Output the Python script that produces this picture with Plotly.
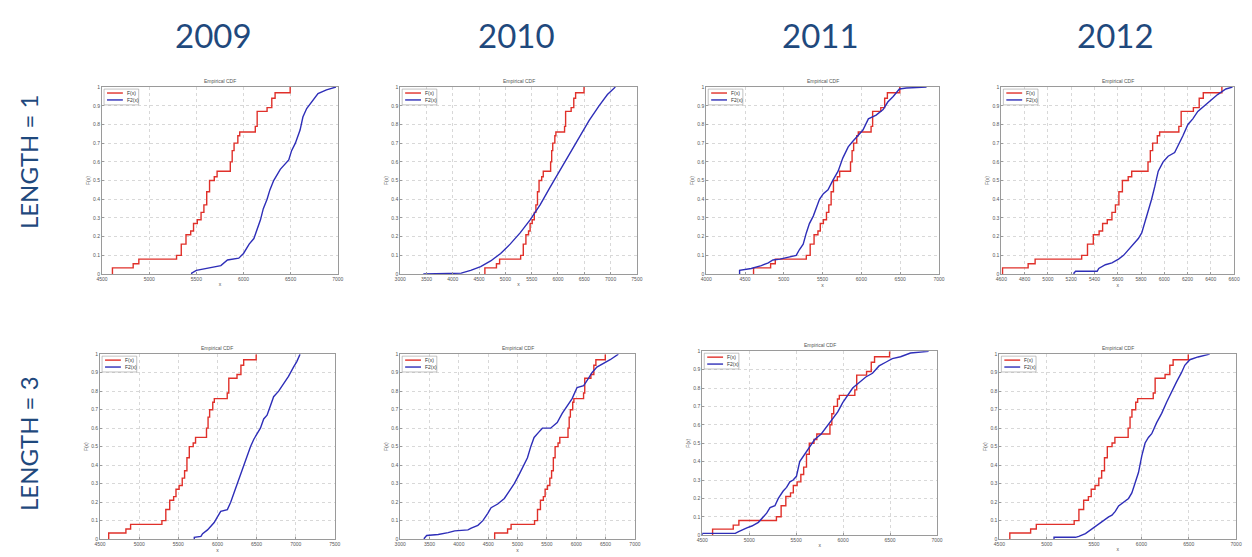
import plotly.graph_objects as go

W, H = 1252, 557

years = ["2009", "2010", "2011", "2012"]
row_labels = ["LENGTH = 1", "LENGTH = 3"]
legend_names = ["F(x)", "F2(x)"]

# Observed empirical CDF (red) - same in every panel
obs_x = [4610, 4610, 4830, 4890, 5290, 5340, 5390, 5440, 5470, 5510, 5550, 5580, 5610,
         5640, 5690, 5720, 5860, 5880, 5900, 5940, 5960, 6125, 6145, 6250, 6300, 6335, 6495]
obs_f = [0, 0.033, 0.055, 0.08, 0.1, 0.16, 0.21, 0.23, 0.27, 0.29, 0.33, 0.37, 0.44,
         0.5, 0.52, 0.55, 0.6, 0.66, 0.7, 0.74, 0.76, 0.79, 0.87, 0.89, 0.94, 0.97, 1.0]

# Model empirical CDFs (blue), one per panel
b2009_l1_x = [5450, 5450, 5500, 5620, 5760, 5830, 5950, 6000, 6060, 6110, 6140, 6180, 6210, 6250,
              6280, 6320, 6390, 6440, 6480, 6510, 6550, 6600, 6630, 6670, 6720, 6790, 6880, 6980]
b2009_l1_f = [0, 0.005, 0.02, 0.033, 0.045, 0.075, 0.085, 0.11, 0.16, 0.19, 0.23, 0.29, 0.35, 0.40,
              0.45, 0.50, 0.56, 0.59, 0.61, 0.66, 0.70, 0.77, 0.84, 0.885, 0.92, 0.965, 0.985, 1.0]

b2010_l1_x = [3440, 4160, 4340, 4530, 4720, 4910, 5090, 5280, 5470, 5660, 5840, 6030, 6220,
              6410, 6590, 6780, 6940, 7090]
b2010_l1_f = [0.0, 0.005, 0.02, 0.04, 0.07, 0.11, 0.16, 0.22, 0.29, 0.37, 0.46, 0.55, 0.64,
              0.73, 0.82, 0.9, 0.96, 1.0]

b2011_l1_x = [4430, 4430, 4580, 4710, 4800, 4860, 4950, 5080, 5160, 5200, 5250, 5290, 5330, 5380,
              5420, 5460, 5510, 5570, 5630, 5700, 5760, 5830, 5890, 5960, 6020, 6090, 6190,
              6280, 6340, 6410, 6490, 6580, 6840]
b2011_l1_f = [0, 0.02, 0.03, 0.045, 0.06, 0.075, 0.08, 0.09, 0.1, 0.13, 0.16, 0.22, 0.27, 0.31,
              0.36, 0.40, 0.43, 0.45, 0.5, 0.55, 0.62, 0.68, 0.71, 0.74, 0.77, 0.83, 0.85,
              0.88, 0.92, 0.95, 0.99, 0.995, 1.0]

b2012_l1_x = [5224, 5224, 5238, 5423, 5437, 5494, 5550, 5607, 5650, 5692, 5735, 5777, 5806, 5834,
              5862, 5891, 5919, 5948, 5990, 6033, 6089, 6132, 6160, 6203, 6245, 6288, 6345,
              6402, 6458, 6529, 6586]
b2012_l1_f = [0, 0.005, 0.015, 0.015, 0.03, 0.05, 0.06, 0.08, 0.1, 0.13, 0.16, 0.19, 0.22, 0.28,
              0.33, 0.4, 0.47, 0.55, 0.6, 0.63, 0.65, 0.7, 0.74, 0.8, 0.83, 0.87, 0.9,
              0.93, 0.96, 0.99, 1.0]

b2009_l3_x = [5704, 5704, 5789, 5810, 5873, 5915, 5958, 6000, 6042, 6127, 6169, 6211, 6253, 6296,
              6338, 6380, 6422, 6465, 6507, 6549, 6591, 6634, 6676, 6718, 6782, 6845, 6908,
              6972, 7014, 7056]
b2009_l3_f = [0, 0.01, 0.015, 0.03, 0.05, 0.07, 0.09, 0.12, 0.15, 0.16, 0.2, 0.25, 0.3, 0.35,
              0.4, 0.44, 0.5, 0.54, 0.57, 0.6, 0.65, 0.67, 0.72, 0.77, 0.8, 0.84, 0.88,
              0.93, 0.96, 1.0]

b2010_l3_x = [3411, 3411, 3451, 3648, 3817, 3930, 4155, 4211, 4324, 4409, 4493, 4549, 4662, 4775,
              4859, 4944, 5028, 5113, 5169, 5225, 5282, 5366, 5423, 5563, 5676, 5761, 5845,
              5930, 6014, 6127, 6211, 6268, 6352, 6465, 6578, 6718]
b2010_l3_f = [0, 0.005, 0.02, 0.025, 0.035, 0.045, 0.05, 0.06, 0.075, 0.1, 0.14, 0.17, 0.19, 0.22,
              0.26, 0.3, 0.35, 0.4, 0.44, 0.5, 0.55, 0.58, 0.6, 0.6, 0.63, 0.68, 0.72,
              0.76, 0.82, 0.83, 0.87, 0.9, 0.93, 0.95, 0.97, 1.0]

b2011_l3_x = [4500, 4500, 4852, 4887, 4975, 5028, 5098, 5151, 5186, 5222, 5274, 5310, 5362, 5398,
              5433, 5468, 5503, 5538, 5591, 5644, 5697, 5767, 5838, 5890, 5943, 5996, 6049,
              6102, 6172, 6242, 6313, 6383, 6454, 6524, 6612, 6718, 6911]
b2011_l3_f = [0, 0.01, 0.01, 0.02, 0.04, 0.05, 0.07, 0.1, 0.12, 0.15, 0.16, 0.2, 0.24, 0.26,
              0.29, 0.3, 0.32, 0.4, 0.44, 0.48, 0.52, 0.55, 0.6, 0.63, 0.67, 0.72, 0.76,
              0.8, 0.83, 0.86, 0.88, 0.92, 0.94, 0.96, 0.97, 0.99, 1.0]

b2012_l3_x = [5077, 5077, 5304, 5339, 5409, 5462, 5514, 5567, 5602, 5654, 5689, 5724, 5759, 5811,
              5864, 5899, 5934, 5969, 6004, 6039, 6074, 6109, 6161, 6214, 6266, 6319, 6371,
              6423, 6458, 6511, 6598, 6721]
b2012_l3_f = [0, 0.01, 0.01, 0.015, 0.03, 0.05, 0.07, 0.09, 0.1, 0.12, 0.13, 0.15, 0.18, 0.2,
              0.22, 0.25, 0.3, 0.36, 0.45, 0.52, 0.55, 0.57, 0.63, 0.68, 0.74, 0.8, 0.85,
              0.9, 0.94, 0.97, 0.985, 1.0]

blue = [[(b2009_l1_x, b2009_l1_f), (b2010_l1_x, b2010_l1_f), (b2011_l1_x, b2011_l1_f), (b2012_l1_x, b2012_l1_f)],
        [(b2009_l3_x, b2009_l3_f), (b2010_l3_x, b2010_l3_f), (b2011_l3_x, b2011_l3_f), (b2012_l3_x, b2012_l3_f)]]

x_ranges = [[(4500, 7000, 500), (3000, 7500, 500), (4000, 7000, 500), (4600, 6600, 200)],
            [(4500, 7500, 500), (3000, 7000, 500), (4500, 7000, 500), (4500, 7000, 500)]]

# panel pixel boxes (left, right, top, bottom)
boxes = [[(97, 335, 85, 274), (398, 637, 85, 274), (707, 942, 85, 274), (1005, 1240, 85, 274)],
         [(95, 332, 355, 542), (398, 635, 355, 542), (703, 940, 352, 538), (1003, 1242, 355, 542)]]

RED = "#E0302A"
BLUE = "#2E2EB8"
NAVY = "#1F497D"
FONT = "Lato"
SMALL = dict(family="Arial", size=5, color="#555555")
COLORS = [RED, BLUE]


def px(x):
    return x / W


def py(y):
    return 1 - y / H


fig = go.Figure()
layout = {}
annotations = []
shapes = []
k = 0
for r in range(2):
    for c in range(4):
        k += 1
        xa = "x" if k == 1 else f"x{k}"
        ya = "y" if k == 1 else f"y{k}"
        L, R, T, B = boxes[r][c]
        x0, x1, dt = x_ranges[r][c]
        fig.add_trace(go.Scatter(x=obs_x, y=obs_f, mode="lines", line=dict(color=RED, width=1.4, shape="hv"),
                                 name=legend_names[0], xaxis=xa, yaxis=ya, showlegend=False))
        bx, bf = blue[r][c]
        fig.add_trace(go.Scatter(x=bx, y=bf, mode="lines", line=dict(color=BLUE, width=1.4),
                                 name=legend_names[1], xaxis=xa, yaxis=ya, showlegend=False))
        axcommon = dict(showline=True, linecolor="#9a9a9a", linewidth=1, mirror=True,
                        showgrid=True, gridcolor="#d8d8d8", griddash="dot", gridwidth=0.6,
                        zeroline=False, ticks="inside", ticklen=2, tickcolor="#9a9a9a",
                        tickfont=SMALL, title_font=SMALL)
        layout["xaxis" if k == 1 else f"xaxis{k}"] = dict(
            domain=[px(L), px(R)], range=[x0, x1], dtick=dt, tick0=x0, tickformat="d",
            anchor=ya, title=dict(text="x", standoff=1), **axcommon)
        layout["yaxis" if k == 1 else f"yaxis{k}"] = dict(
            domain=[py(B), py(T)], range=[0, 1], dtick=0.1, tick0=0,
            anchor=xa, title=dict(text="F(x)", standoff=2), **axcommon)
        # compact legend box (MATLAB style)
        shapes.append(dict(type="rect", xref="paper", yref="paper",
                           x0=px(L + 2), x1=px(L + 37), y0=py(T + 18), y1=py(T + 2),
                           line=dict(color="#9a9a9a", width=0.6), fillcolor="white", layer="above"))
        for i, nm in enumerate(legend_names):
            yy = T + 6 + 7 * i
            shapes.append(dict(type="line", xref="paper", yref="paper",
                               x0=px(L + 5), x1=px(L + 21), y0=py(yy), y1=py(yy),
                               line=dict(color=COLORS[i], width=1.4), layer="above"))
            annotations.append(dict(text=nm, x=px(L + 23), y=py(yy), xref="paper", yref="paper",
                                    xanchor="left", yanchor="middle", showarrow=False,
                                    font=dict(family="Arial", size=5, color="#333")))
        annotations.append(dict(text="Empirical CDF", x=px((L + R) / 2), y=py(T - 1),
                                xref="paper", yref="paper", xanchor="center", yanchor="bottom",
                                showarrow=False, font=SMALL))

for i, yr in enumerate(years):
    cx = [210, 515, 822, 1120][i]
    annotations.append(dict(text=yr, x=px(cx), y=py(32), xref="paper", yref="paper",
                            xanchor="center", yanchor="middle", showarrow=False,
                            font=dict(family=FONT, size=33, color=NAVY)))
for j, lab in enumerate(row_labels):
    cy = [160, 445][j]
    annotations.append(dict(text=lab, x=px(22), y=py(cy), xref="paper", yref="paper",
                            xanchor="center", yanchor="middle", showarrow=False, textangle=-90,
                            font=dict(family=FONT, size=24, color=NAVY)))

fig.update_layout(width=W, height=H, margin=dict(l=0, r=0, t=0, b=0),
                  paper_bgcolor="white", plot_bgcolor="white",
                  annotations=annotations, shapes=shapes, **layout)
fig.write_html("out.html", config={"displayModeBar": False},
               post_script="document.body.style.margin='0';")
